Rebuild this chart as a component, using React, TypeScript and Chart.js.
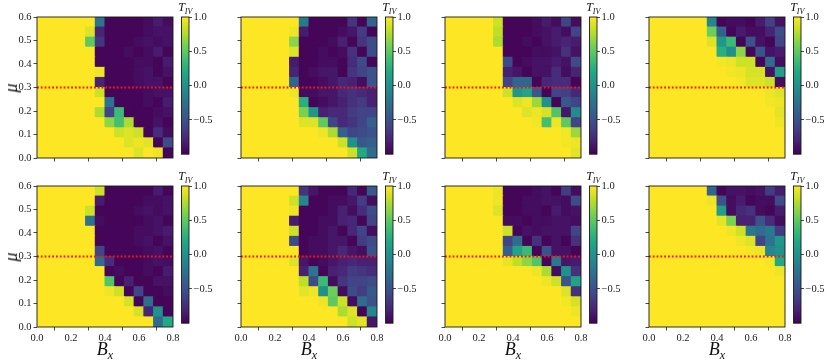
import React, { useEffect, useRef } from 'react';
import { Chart, registerables } from 'chart.js';

Chart.register(...registerables);

// ---------------- data ----------------
const GRID_N = 14;
const X_MAX = 0.8;
const Y_MAX = 0.6;
const MU_LINE = 0.3;
const X_TICKS = [0, 0.2, 0.4, 0.6, 0.8];
const Y_TICKS = [0, 0.1, 0.2, 0.3, 0.4, 0.5, 0.6];
const CBAR_TICKS = [-0.5, 0, 0.5, 1];
const CBAR_MIN = -1;
const CBAR_MAX = 1;

// each grid: rows from top (mu = 0.6) to bottom (mu = 0), columns B_x = 0 -> 0.8
const T_TOP_1 = [
  [1, 1, 1, 1, 1, 1, -0.25, -0.97, -0.97, -0.97, -0.97, -0.93, -0.85, -0.93],
  [1, 1, 1, 1, 1, 0.9, -0.8, -0.97, -0.97, -0.97, -0.97, -0.93, -0.9, -0.9],
  [1, 1, 1, 1, 1, 0.5, -0.7, -0.97, -0.97, -0.97, -0.93, -0.9, -0.93, -0.9],
  [1, 1, 1, 1, 1, 1, -0.97, -0.97, -0.97, -0.93, -0.97, -0.93, -0.85, -0.97],
  [1, 1, 1, 1, 1, 1, -0.97, -0.97, -0.97, -0.97, -0.93, -0.93, -0.97, -0.85],
  [1, 1, 1, 1, 1, 1, 0.95, -0.97, -0.97, -0.97, -0.93, -0.9, -0.97, -0.9],
  [1, 1, 1, 1, 1, 1, -0.8, -0.97, -0.97, -0.97, -0.93, -0.9, -0.9, -0.97],
  [1, 1, 1, 1, 1, 1, 0.85, -0.97, -0.97, -0.97, -0.97, -0.93, -0.9, -0.9],
  [1, 1, 1, 1, 1, 1, 1, -0.25, -0.97, -0.97, -0.97, -0.93, -0.97, -0.85],
  [1, 1, 1, 1, 1, 1, 0.75, -0.6, 0.35, -0.97, -0.97, -0.97, -0.93, -0.9],
  [1, 1, 1, 1, 1, 1, 1, 0.65, 0.4, 0.75, -0.97, -0.97, -0.9, -0.97],
  [1, 1, 1, 1, 1, 1, 1, 1, 0.85, 0.9, 0.85, -0.97, -0.75, -0.93],
  [1, 1, 1, 1, 1, 1, 1, 1, 1, 0.9, 0.95, 0.92, -0.97, -0.55],
  [1, 1, 1, 1, 1, 1, 1, 1, 1, 1, 0.9, 1, 0.95, -0.97],
];

const T_TOP_2 = [
  [1, 1, 1, 1, 1, 1, -0.2, -0.97, -0.97, -0.97, -0.97, -0.7, -0.97, -0.35],
  [1, 1, 1, 1, 1, 0.95, -0.85, -0.97, -0.97, -0.97, -0.93, -0.88, -0.65, -0.97],
  [1, 1, 1, 1, 1, 0.65, -0.97, -0.97, -0.97, -0.93, -0.82, -0.97, -0.7, -0.55],
  [1, 1, 1, 1, 1, 0.9, -0.97, -0.97, -0.93, -0.97, -0.93, -0.72, -0.97, -0.55],
  [1, 1, 1, 1, 1, -0.85, -0.97, -0.97, -0.93, -0.93, -0.97, -0.75, -0.55, -0.97],
  [1, 1, 1, 1, 1, -0.8, -0.97, -0.93, -0.88, -0.88, -0.97, -0.7, -0.6, -0.5],
  [1, 1, 1, 1, 1, -0.35, -0.97, -0.97, -0.93, -0.88, -0.78, -0.82, -0.93, -0.5],
  [1, 1, 1, 1, 1, 0.95, -0.93, -0.93, -0.88, -0.88, -0.78, -0.72, -0.77, -0.82],
  [1, 1, 1, 1, 1, 1, 0.25, -0.97, -0.93, -0.88, -0.82, -0.72, -0.65, -0.82],
  [1, 1, 1, 1, 1, 1, 0.6, 0.05, -0.82, -0.77, -0.77, -0.65, -0.6, -0.6],
  [1, 1, 1, 1, 1, 1, 0.9, 0.9, 0.5, -0.6, -0.77, -0.7, -0.6, -0.4],
  [1, 1, 1, 1, 1, 1, 1, 1, 0.95, 0.75, -0.4, -0.6, -0.55, -0.5],
  [1, 1, 1, 1, 1, 1, 1, 1, 1, 1, 0.85, 0.0, -0.45, -0.4],
  [1, 1, 1, 1, 1, 1, 1, 1, 1, 1, 1, 0.85, 0.2, -0.3],
];

const T_TOP_3 = [
  [1, 1, 1, 1, 1, 0.85, -0.97, -0.97, -0.97, -0.93, -0.85, -0.93, -0.6, -0.93],
  [1, 1, 1, 1, 1, 0.8, -0.97, -0.97, -0.97, -0.93, -0.9, -0.85, -0.93, -0.6],
  [1, 1, 1, 1, 1, 0.75, -0.97, -0.97, -0.93, -0.97, -0.9, -0.85, -0.8, -0.85],
  [1, 1, 1, 1, 1, 1, -0.97, -0.97, -0.97, -0.93, -0.93, -0.9, -0.72, -0.9],
  [1, 1, 1, 1, 1, 1, -0.55, -0.97, -0.93, -0.9, -0.9, -0.85, -0.9, -0.55],
  [1, 1, 1, 1, 1, 1, -0.82, -0.88, -0.97, -0.9, -0.9, -0.75, -0.93, -0.8],
  [1, 1, 1, 1, 1, 1, -0.6, -0.35, -0.35, -0.97, -0.78, -0.75, -0.75, -0.97],
  [1, 1, 1, 1, 1, 1, 0.85, 0.05, 0.15, -0.45, -0.97, -0.6, -0.62, -0.78],
  [1, 1, 1, 1, 1, 1, 1, 0.9, 0.95, 0.7, 0.0, -0.97, -0.45, -0.6],
  [1, 1, 1, 1, 1, 1, 1, 1, 0.9, 0.95, 0.88, 0.45, -0.88, -0.05],
  [1, 1, 1, 1, 1, 1, 1, 1, 1, 0.97, 0.4, 0.95, 0.5, -0.6],
  [1, 1, 1, 1, 1, 1, 1, 1, 1, 1, 1, 1, 0.97, 0.7],
  [1, 1, 1, 1, 1, 1, 1, 1, 1, 1, 1, 1, 0.97, 0.95],
  [1, 1, 1, 1, 1, 1, 1, 1, 1, 1, 1, 1, 1, 0.92],
];

const T_TOP_4 = [
  [1, 1, 1, 1, 1, 1, -0.1, -0.97, -0.93, -0.93, -0.97, -0.85, -0.62, -0.9],
  [1, 1, 1, 1, 1, 1, 0.55, -0.4, -0.97, -0.85, -0.93, -0.93, -0.8, -0.55],
  [1, 1, 1, 1, 1, 1, 0.9, 0.05, 0.35, -0.97, -0.5, -0.9, -0.97, -0.6],
  [1, 1, 1, 1, 1, 1, 1, 0.25, 0.0, 0.65, -0.97, -0.5, -0.9, -0.85],
  [1, 1, 1, 1, 1, 1, 1, 0.97, 0.95, 0.85, 0.85, -0.97, -0.3, -0.93],
  [1, 1, 1, 1, 1, 1, 1, 1, 0.97, 0.95, 0.88, 0.88, -0.9, 0.1],
  [1, 1, 1, 1, 1, 1, 1, 1, 1, 0.97, 0.9, 0.9, 0.85, -0.93],
  [1, 1, 1, 1, 1, 1, 1, 1, 1, 1, 1, 1, 0.95, 0.9],
  [1, 1, 1, 1, 1, 1, 1, 1, 1, 1, 1, 1, 0.97, 0.95],
  [1, 1, 1, 1, 1, 1, 1, 1, 1, 1, 1, 1, 1, 0.92],
  [1, 1, 1, 1, 1, 1, 1, 1, 1, 1, 1, 1, 1, 0.96],
  [1, 1, 1, 1, 1, 1, 1, 1, 1, 1, 1, 1, 1, 1],
  [1, 1, 1, 1, 1, 1, 1, 1, 1, 1, 1, 1, 1, 1],
  [1, 1, 1, 1, 1, 1, 1, 1, 1, 1, 1, 1, 1, 1],
];

const T_BOT_1 = [
  [1, 1, 1, 1, 1, 1, 0.85, -0.97, -0.97, -0.97, -0.97, -0.97, -0.85, -0.97],
  [1, 1, 1, 1, 1, 1, -0.85, -0.97, -0.97, -0.97, -0.97, -0.93, -0.93, -0.9],
  [1, 1, 1, 1, 1, 0.85, -0.97, -0.97, -0.97, -0.97, -0.93, -0.9, -0.93, -0.9],
  [1, 1, 1, 1, 1, -0.25, -0.93, -0.97, -0.97, -0.97, -0.97, -0.93, -0.9, -0.97],
  [1, 1, 1, 1, 1, 1, -0.97, -0.97, -0.97, -0.97, -0.93, -0.93, -0.9, -0.85],
  [1, 1, 1, 1, 1, 1, -0.97, -0.97, -0.97, -0.97, -0.93, -0.9, -0.97, -0.9],
  [1, 1, 1, 1, 1, 1, -0.6, -0.97, -0.97, -0.97, -0.97, -0.93, -0.9, -0.97],
  [1, 1, 1, 1, 1, 1, -0.3, -0.75, -0.97, -0.97, -0.97, -0.93, -0.9, -0.93],
  [1, 1, 1, 1, 1, 1, 1, -0.97, -0.93, -0.97, -0.97, -0.93, -0.97, -0.85],
  [1, 1, 1, 1, 1, 1, 1, 0.45, -0.97, -0.82, -0.97, -0.97, -0.9, -0.9],
  [1, 1, 1, 1, 1, 1, 1, 0.95, 0.85, -0.97, -0.6, -0.97, -0.97, -0.93],
  [1, 1, 1, 1, 1, 1, 1, 1, 1, 0.88, -0.97, -0.3, -0.97, -0.97],
  [1, 1, 1, 1, 1, 1, 1, 1, 1, 1, 0.88, -0.8, 0.0, -0.97],
  [1, 1, 1, 1, 1, 1, 1, 1, 1, 1, 1, 1, -0.3, 0.2],
];

const T_BOT_2 = [
  [1, 1, 1, 1, 1, 1, -0.7, -0.88, -0.97, -0.97, -0.97, -0.78, -0.97, -0.45],
  [1, 1, 1, 1, 1, 0.85, -0.1, -0.97, -0.97, -0.93, -0.93, -0.88, -0.65, -0.93],
  [1, 1, 1, 1, 1, 0.95, -0.97, -0.97, -0.97, -0.93, -0.82, -0.93, -0.75, -0.55],
  [1, 1, 1, 1, 1, -0.85, -0.97, -0.97, -0.93, -0.93, -0.82, -0.78, -0.97, -0.6],
  [1, 1, 1, 1, 1, 0.85, -0.97, -0.97, -0.93, -0.88, -0.97, -0.78, -0.6, -0.93],
  [1, 1, 1, 1, 1, -0.55, -0.97, -0.93, -0.93, -0.88, -0.88, -0.97, -0.65, -0.55],
  [1, 1, 1, 1, 1, 1, -0.97, -0.93, -0.93, -0.88, -0.78, -0.88, -0.93, -0.5],
  [1, 1, 1, 1, 1, 0.9, -0.88, -0.97, -0.93, -0.88, -0.82, -0.78, -0.82, -0.82],
  [1, 1, 1, 1, 1, 1, -0.82, -0.25, -0.97, -0.82, -0.77, -0.65, -0.7, -0.75],
  [1, 1, 1, 1, 1, 1, 0.8, -0.55, 0.35, -0.93, -0.7, -0.6, -0.6, -0.55],
  [1, 1, 1, 1, 1, 1, 0.92, 0.95, 0.0, 0.55, -0.93, -0.55, -0.65, -0.45],
  [1, 1, 1, 1, 1, 1, 1, 1, 0.95, 0.5, 0.85, -0.93, -0.3, -0.5],
  [1, 1, 1, 1, 1, 1, 1, 1, 1, 1, 0.75, 0.9, -0.97, -0.1],
  [1, 1, 1, 1, 1, 1, 1, 1, 1, 1, 1, 0.85, 0.92, -0.88],
];

const T_BOT_3 = [
  [1, 1, 1, 1, 1, 0.95, -0.97, -0.97, -0.97, -0.93, -0.9, -0.97, -0.65, -0.93],
  [1, 1, 1, 1, 1, 0.95, -0.97, -0.97, -0.93, -0.93, -0.9, -0.9, -0.93, -0.55],
  [1, 1, 1, 1, 1, 0.9, -0.97, -0.97, -0.93, -0.93, -0.97, -0.85, -0.93, -0.9],
  [1, 1, 1, 1, 1, 1, -0.93, -0.93, -0.97, -0.93, -0.93, -0.9, -0.9, -0.93],
  [1, 1, 1, 1, 1, 1, 0.85, -0.97, -0.9, -0.93, -0.9, -0.9, -0.9, -0.6],
  [1, 1, 1, 1, 1, 1, -0.6, -0.3, -0.97, -0.72, -0.97, -0.9, -0.97, -0.72],
  [1, 1, 1, 1, 1, 1, -0.4, 0.15, 0.35, -0.97, -0.5, -0.9, -0.9, -0.97],
  [1, 1, 1, 1, 1, 1, 0.93, 0.8, 0.65, 0.45, -0.97, -0.2, -0.88, -0.85],
  [1, 1, 1, 1, 1, 1, 1, 1, 1, 0.95, 0.75, -0.93, 0.0, -0.72],
  [1, 1, 1, 1, 1, 1, 1, 1, 1, 1, 0.95, 0.85, -0.5, 0.15],
  [1, 1, 1, 1, 1, 1, 1, 1, 1, 1, 1, 1, 0.9, -0.72],
  [1, 1, 1, 1, 1, 1, 1, 1, 1, 1, 1, 1, 0.97, 0.88],
  [1, 1, 1, 1, 1, 1, 1, 1, 1, 1, 1, 1, 1, 0.95],
  [1, 1, 1, 1, 1, 1, 1, 1, 1, 1, 1, 1, 1, 1],
];

const T_BOT_4 = [
  [1, 1, 1, 1, 1, 1, -0.35, -0.97, -0.9, -0.9, -0.93, -0.9, -0.65, -0.85],
  [1, 1, 1, 1, 1, 1, 0.95, -0.5, -0.93, -0.85, -0.97, -0.93, -0.93, -0.55],
  [1, 1, 1, 1, 1, 1, 1, 0.1, -0.93, -0.78, -0.72, -0.93, -0.97, -0.85],
  [1, 1, 1, 1, 1, 1, 1, 0.92, 0.6, -0.82, -0.82, -0.5, -0.75, -0.93],
  [1, 1, 1, 1, 1, 1, 1, 1, 0.95, 0.85, -0.2, -0.3, -0.2, -0.65],
  [1, 1, 1, 1, 1, 1, 1, 1, 1, 0.95, 0.9, -0.6, -0.25, 0.05],
  [1, 1, 1, 1, 1, 1, 1, 1, 1, 1, 0.97, 0.95, -0.1, 0.0],
  [1, 1, 1, 1, 1, 1, 1, 1, 1, 1, 1, 1, 0.97, 0.2],
  [1, 1, 1, 1, 1, 1, 1, 1, 1, 1, 1, 1, 1, 0.95],
  [1, 1, 1, 1, 1, 1, 1, 1, 1, 1, 1, 1, 1, 1],
  [1, 1, 1, 1, 1, 1, 1, 1, 1, 1, 1, 1, 1, 1],
  [1, 1, 1, 1, 1, 1, 1, 1, 1, 1, 1, 1, 1, 1],
  [1, 1, 1, 1, 1, 1, 1, 1, 1, 1, 1, 1, 1, 1],
  [1, 1, 1, 1, 1, 1, 1, 1, 1, 1, 1, 1, 1, 1],
];

const TOP_ROW = [T_TOP_1, T_TOP_2, T_TOP_3, T_TOP_4];
const BOTTOM_ROW = [T_BOT_1, T_BOT_2, T_BOT_3, T_BOT_4];

// ---------------- styling / layout ----------------
const VIRIDIS = ['#440154', '#482475', '#414487', '#355f8d', '#2a788e', '#21918c', '#22a884', '#44bf70', '#7ad151', '#bddf26', '#fde725'];
const SERIF = "'Liberation Serif', 'DejaVu Serif', serif";
const INK = '#1a1a1a';
const PLOT_LEFTS = [37, 241, 445, 649];
const PLOT_TOPS = [17, 186];
const PLOT_W = 136;
const PLOT_H = 141;
const Y_AXIS_W = 37;
const X_AXIS_H = 24;
const PAD_TOP = 17;
const PAD_RIGHT = 10;
const CB_CANVAS_OFF = 140;
const CB_PAD_LEFT = 4.5;
const CB_AXIS_W = 30;
const CB_CANVAS_W = 42;

function hexToRgb(h: string) {
  return [parseInt(h.slice(1, 3), 16), parseInt(h.slice(3, 5), 16), parseInt(h.slice(5, 7), 16)];
}
const VIRIDIS_RGB = VIRIDIS.map(hexToRgb);

function viridis(v: number) {
  let t = (v - CBAR_MIN) / (CBAR_MAX - CBAR_MIN);
  t = Math.max(0, Math.min(1, t)) * (VIRIDIS.length - 1);
  const i = Math.min(VIRIDIS.length - 2, Math.floor(t));
  const f = t - i;
  const a = VIRIDIS_RGB[i];
  const b = VIRIDIS_RGB[i + 1];
  const c = a.map((x, k) => Math.round(x + (b[k] - x) * f));
  return `rgb(${c[0]},${c[1]},${c[2]})`;
}

const fmt1 = (v: number) => (v < 0 ? '\u2212' : '') + Math.abs(v).toFixed(1);

const framePlugin = {
  id: 'frame',
  afterDatasetsDraw(chart: any) {
    const { ctx, chartArea: a } = chart;
    ctx.save();
    ctx.strokeStyle = INK;
    ctx.lineWidth = 0.9;
    ctx.strokeRect(a.left, a.top, a.right - a.left, a.bottom - a.top);
    ctx.restore();
  },
};

function Heatmap({ values, left, top, showX, showY }: { values: number[][]; left: number; top: number; showX: boolean; showY: boolean }) {
  const ref = useRef<HTMLCanvasElement>(null);
  useEffect(() => {
    const dx = X_MAX / GRID_N;
    const dy = Y_MAX / GRID_N;
    const cells: any[] = [];
    values.forEach((row, r) =>
      row.forEach((v, c) => {
        cells.push({ x: (c + 0.5) * dx, y: [(GRID_N - 1 - r) * dy, (GRID_N - r) * dy], v });
      })
    );
    const tickFont = { family: SERIF, size: 10.5 };
    const chart = new Chart(ref.current as HTMLCanvasElement, {
      type: 'bar',
      data: {
        datasets: [
          {
            type: 'line',
            data: [
              { x: 0, y: MU_LINE },
              { x: X_MAX, y: MU_LINE },
            ],
            borderColor: '#ff1010',
            borderWidth: 2.2,
            borderDash: [1.8, 2.0],
            borderCapStyle: 'butt',
            pointRadius: 0,
            fill: false,
          } as any,
          {
            type: 'bar',
            data: cells,
            backgroundColor: (ctx: any) => viridis(ctx.raw && ctx.raw.v !== undefined ? ctx.raw.v : 1),
            borderWidth: 0,
            inflateAmount: 0.5,
            barPercentage: 1,
            categoryPercentage: 1,
          } as any,
        ],
      },
      options: {
        responsive: false,
        animation: false,
        devicePixelRatio: 1,
        layout: { padding: { top: PAD_TOP, right: PAD_RIGHT, left: 0, bottom: 0 }, autoPadding: false } as any,
        plugins: { legend: { display: false }, tooltip: { enabled: false }, title: { display: false } },
        scales: {
          x: {
            type: 'linear',
            min: 0,
            max: X_MAX,
            offset: false,
            afterBuildTicks: (axis: any) => {
              axis.ticks = X_TICKS.map((v) => ({ value: v }));
            },
            afterFit: (s: any) => {
              s.height = X_AXIS_H;
            },
            grid: { display: true, drawOnChartArea: false, drawTicks: true, tickLength: 3.5, color: INK, lineWidth: 0.8 },
            border: { display: false },
            ticks: {
              display: showX,
              autoSkip: false,
              maxRotation: 0,
              padding: 1,
              color: INK,
              font: tickFont,
              callback: (v: any) => Number(v).toFixed(1),
            },
          },
          y: {
            type: 'linear',
            min: 0,
            max: Y_MAX,
            afterBuildTicks: (axis: any) => {
              axis.ticks = Y_TICKS.map((v) => ({ value: v }));
            },
            afterFit: (s: any) => {
              s.width = Y_AXIS_W;
            },
            grid: { display: true, drawOnChartArea: false, drawTicks: true, tickLength: 3.5, color: INK, lineWidth: 0.8 },
            border: { display: false },
            ticks: {
              display: showY,
              autoSkip: false,
              padding: 2,
              color: INK,
              font: tickFont,
              callback: (v: any) => Number(v).toFixed(1),
            },
          },
        },
      } as any,
      plugins: [framePlugin],
    });
    return () => chart.destroy();
  }, [values, showX, showY]);
  return (
    <canvas
      ref={ref}
      width={Y_AXIS_W + PLOT_W + PAD_RIGHT}
      height={PAD_TOP + PLOT_H + X_AXIS_H}
      style={{ position: 'absolute', left: left - Y_AXIS_W, top: top - PAD_TOP }}
    />
  );
}

function ColorBar({ left, top }: { left: number; top: number }) {
  const ref = useRef<HTMLCanvasElement>(null);
  useEffect(() => {
    const chart = new Chart(ref.current as HTMLCanvasElement, {
      type: 'bar',
      data: {
        labels: [''],
        datasets: [
          {
            data: [[CBAR_MIN, CBAR_MAX]],
            backgroundColor: (ctx: any) => {
              const area = ctx.chart.chartArea;
              if (!area) return VIRIDIS[5];
              const g = ctx.chart.ctx.createLinearGradient(0, area.bottom, 0, area.top);
              VIRIDIS.forEach((c, i) => g.addColorStop(i / (VIRIDIS.length - 1), c));
              return g;
            },
            borderWidth: 0,
            barPercentage: 1,
            categoryPercentage: 1,
          } as any,
        ],
      },
      options: {
        responsive: false,
        animation: false,
        devicePixelRatio: 1,
        layout: { padding: { top: PAD_TOP, right: 0, left: CB_PAD_LEFT, bottom: 4 }, autoPadding: false } as any,
        plugins: { legend: { display: false }, tooltip: { enabled: false } },
        scales: {
          x: { display: false },
          y: {
            position: 'right',
            min: CBAR_MIN,
            max: CBAR_MAX,
            afterBuildTicks: (axis: any) => {
              axis.ticks = CBAR_TICKS.map((v) => ({ value: v }));
            },
            afterFit: (s: any) => {
              s.width = CB_AXIS_W;
            },
            grid: { display: true, drawOnChartArea: false, drawTicks: true, tickLength: 3, color: INK, lineWidth: 0.8 },
            border: { display: false },
            ticks: {
              autoSkip: false,
              padding: 1.5,
              color: INK,
              font: { family: SERIF, size: 10.5 },
              callback: (v: any) => fmt1(Number(v)),
            },
          },
        },
      } as any,
      plugins: [framePlugin],
    });
    return () => chart.destroy();
  }, []);
  return (
    <canvas
      ref={ref}
      width={CB_CANVAS_W}
      height={PAD_TOP + PLOT_H + 4}
      style={{ position: 'absolute', left: left + CB_CANVAS_OFF, top: top - PAD_TOP }}
    />
  );
}

const labelBase: React.CSSProperties = {
  position: 'absolute',
  fontFamily: SERIF,
  fontStyle: 'italic',
  color: '#111',
  lineHeight: 1,
  whiteSpace: 'nowrap',
};

export default function App() {
  const rows = [TOP_ROW, BOTTOM_ROW];
  return (
    <div style={{ position: 'absolute', left: 0, top: 0, width: 830, height: 362, background: '#fff', overflow: 'hidden' }}>
      {rows.map((row, ri) =>
        row.map((vals, ci) => {
          const left = PLOT_LEFTS[ci];
          const top = PLOT_TOPS[ri];
          const cbCenter = left + CB_CANVAS_OFF + CB_PAD_LEFT + 3.75;
          return (
            <React.Fragment key={`${ri}-${ci}`}>
              <Heatmap values={vals} left={left} top={top} showX={ri === 1} showY={ci === 0} />
              <ColorBar left={left} top={top} />
              <div style={{ ...labelBase, fontSize: 12, left: cbCenter, top: top - 16, transform: 'translateX(-50%)' }}>
                T<sub style={{ fontSize: 8, verticalAlign: 'baseline', position: 'relative', top: 2.5 }}>IV</sub>
              </div>
              {ci === 0 && (
                <div
                  style={{
                    ...labelBase,
                    fontSize: 18,
                    left: 11,
                    top: top + PLOT_H / 2,
                    transform: 'translate(-50%, -50%) rotate(-90deg)',
                  }}
                >
                  μ
                </div>
              )}
              {ri === 1 && (
                <div style={{ ...labelBase, fontSize: 18, left: left + PLOT_W / 2, top: 340, transform: 'translateX(-50%)' }}>
                  B<sub style={{ fontSize: 12, verticalAlign: 'baseline', position: 'relative', top: 3.5 }}>x</sub>
                </div>
              )}
            </React.Fragment>
          );
        })
      )}
    </div>
  );
}
